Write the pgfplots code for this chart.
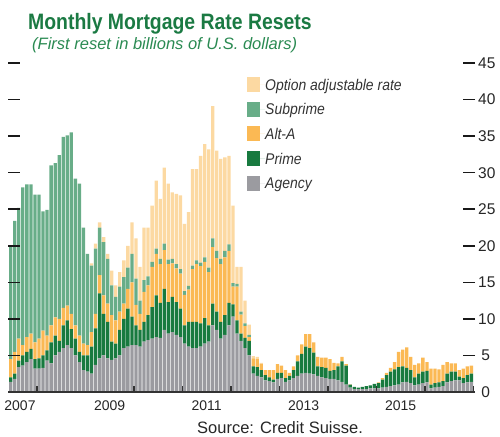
\documentclass[border=0pt]{standalone}
\usepackage{pgfplots}
\pgfplotsset{compat=1.18}
\usepackage{pgfplotstable}
\usepackage{fontspec}
\setmainfont{Liberation Sans}
\newfontfamily\cond[FakeStretch=0.87]{Liberation Sans}
\newfontfamily\legf[FakeStretch=0.9]{Liberation Sans}
\definecolor{agency}{HTML}{9B9BA0}
\definecolor{prime}{HTML}{187A3F}
\definecolor{alta}{HTML}{FBB954}
\definecolor{subp}{HTML}{68AD88}
\definecolor{oar}{HTML}{FCD9A2}
\definecolor{titlegreen}{HTML}{1B7A43}
\definecolor{subgreen}{HTML}{2A8A52}

\pgfplotstableread{
x ag pr aa sp oa
5.5 1.4 0.6 2.5 15.5 0
6.5 1.8 0.7 3.0 17.9 0
7.5 3.4 0.9 3.0 17.9 0
8.5 3.6 1.4 1.4 21.6 0
9.5 4.1 1.4 2.0 20.9 0
10.5 4.5 1.4 2.1 20.4 0
11.5 3.2 1.3 2.3 20.2 0
12.5 3.2 1.4 2.7 19.7 0
13.5 3.3 1.7 3.4 16.3 0
14.5 4.3 1.4 2.0 17.2 0
15.5 3.9 2.9 2.3 21.9 0
16.5 5.0 2.7 2.5 21.1 0
17.5 5.5 1.5 3.0 22.4 0
18.5 6.0 3.1 2.4 23.4 0
19.5 6.4 3.4 2.0 23.3 0
20.5 6.0 2.6 2.1 24.8 0
21.5 5.0 2.3 1.8 20.1 0
22.5 4.1 1.4 2.2 20.8 0
23.5 3.0 2.0 1.6 15.9 0
24.5 2.8 2.2 1.4 12.5 0
25.5 2.5 3.7 2.0 9.1 0.3
26.5 3.7 5.0 2.0 8.9 0.7
27.5 4.6 8.9 2.5 6.5 0.7
28.5 5.0 5.7 2.5 7.3 0.7
29.5 4.6 5.0 2.5 6.1 0.7
30.5 4.4 2.5 3.6 4.1 2.0
31.5 4.6 2.0 3.2 3.2 1.6
32.5 5.0 3.5 2.5 3.4 2.0
33.5 6.0 4.0 2.1 3.6 2.3
34.5 6.2 5.2 2.7 2.9 3.0
35.5 6.4 3.9 4.7 3.9 4.3
36.5 6.4 2.7 2.8 3.6 5.5
37.5 6.2 2.3 2.2 1.8 4.6
38.5 6.9 2.7 4.1 1.6 7.2
39.5 7.1 3.4 4.1 1.2 6.7
40.5 7.3 4.3 5.5 0.7 7.7
41.5 7.5 5.7 5.7 0.7 9.3
42.5 7.4 4.8 5.3 0.7 8.2
43.5 8.5 5.6 5.3 0.9 10.4
44.5 8.0 4.3 5.2 0.6 10.4
45.5 8.2 4.8 4.6 0.6 9.1
46.5 7.8 4.5 4.6 0.6 9.6
47.5 7.5 3.9 4.8 0.6 10.1
48.5 6.6 2.5 4.2 0.5 9.2
49.5 6.2 3.4 4.4 0.5 10.1
50.5 6.0 3.6 7.2 0.5 13.2
51.5 6.0 3.6 7.9 0.5 12.5
52.5 6.2 3.2 7.8 0.5 14.6
53.5 6.6 3.5 7.7 0.6 15.5
54.5 6.9 2.2 7.3 0.6 16.2
55.5 9.1 3.0 7.7 1.2 18.1
56.5 8.5 2.5 7.3 1.0 13.7
57.5 7.3 2.3 7.9 0.7 13.7
58.5 7.8 2.7 7.9 0.9 12.8
59.5 9.1 3.1 7.1 0.9 12.1
60.5 10.3 1.7 2.4 0.5 10.6
61.5 8.0 1.8 4.6 0.4 2.3
62.5 7.0 1.0 2.6 0.4 6.1
63.5 6.0 1.4 1.6 0.4 3.1
64.5 5.0 2.0 0.5 0.3 1.4
65.5 2.5 1.0 1.1 0 0.3
66.5 2.2 1.2 1.1 0 0.3
67.5 2.0 1.0 0.8 0 0.2
68.5 1.6 0.7 0.7 0 0
69.5 1.5 0.5 1.0 0 0
70.5 1.3 0.4 1.3 0 0
71.5 1.8 0.8 1.2 0 0
72.5 1.9 0.7 1.0 0 0
73.5 1.4 0.5 1.1 0 0
74.5 1.6 0.6 0.4 0 0
75.5 1.9 1.1 0.5 0 0
76.5 2.2 2.0 0.8 0 0
77.5 2.5 2.7 1.3 0 0
78.5 2.6 3.6 1.7 0 0
79.5 2.5 3.5 1.9 0 0
80.5 2.4 3.0 1.4 0 0
81.5 2.2 1.3 1.3 0 0
82.5 2.0 1.4 1.3 0 0
83.5 1.9 1.4 1.4 0 0
84.5 1.8 1.1 1.6 0 0
85.5 1.8 1.2 1.0 0 0
86.5 1.6 1.9 0.4 0 0
87.5 1.4 2.8 0.6 0 0
88.5 1.0 2.6 0.2 0 0
89.5 0.6 0.4 0.05 0 0
90.5 0.4 0.3 0 0 0
91.5 0.4 0.2 0 0 0
92.5 0.4 0.3 0 0 0
93.5 0.4 0.4 0 0 0
94.5 0.5 0.4 0 0 0
95.5 0.5 0.6 0 0 0
96.5 0.5 0.7 0.1 0 0
97.5 0.6 1.1 0.2 0 0
98.5 0.7 1.6 0.3 0 0
99.5 0.8 2.0 0.5 0 0
100.5 0.9 2.2 1.0 0 0
101.5 1.0 2.4 2.1 0 0
102.5 1.3 2.2 2.3 0 0
103.5 1.4 1.9 2.8 0 0
104.5 1.2 1.8 1.8 0 0
105.5 0.9 1.1 1.7 0 0
106.5 1.0 1.5 1.4 0 0
107.5 1.2 1.6 1.9 0 0
108.5 1.3 1.6 1.2 0 0
109.5 0.5 0.5 2.2 0 0
110.5 0.6 0.6 2.0 0 0
111.5 0.7 0.6 1.8 0 0
112.5 0.8 0.7 2.2 0 0
113.5 1.3 1.2 1.6 0 0
114.5 1.5 1.3 1.1 0 0
115.5 1.6 1.2 1.1 0 0
116.5 1.6 0.5 0.9 0 0
117.5 1.2 0.7 1.3 0 0
118.5 1.3 1.0 1.2 0 0
119.5 1.4 1.1 1.1 0 0
}\data

\pgfplotsset{sw/.style={legend image code/.code={\fill[##1] (0bp,-7.5bp) rectangle (13bp,7.5bp); \path (0bp,0bp) -- (18bp,0bp);}}}

\begin{document}
\begin{tikzpicture}
\useasboundingbox (0,0) rectangle (500bp,437bp);
\begin{axis}[
  at={(8bp,45bp)}, anchor=south west,
  scale only axis, width=467bp, height=329bp,
  xmin=4.83, xmax=120.4, ymin=0, ymax=45,
  enlargelimits=false,
  ybar stacked, bar width=3.3bp,
  axis on top,
  separate axis lines,
  axis x line*=bottom,
  axis y line*=box,
  x axis line style={draw=black!80, line width=1.3bp},
  y axis line style={draw=none},
  tick align=inside,
  xtick={12,36,48,60,72,84,96,108,120},
  xticklabels={},
  xtick style={draw=black!80, line width=1.5bp, /pgfplots/major tick length=6bp},
  extra x ticks={7.8,30,54,78,102},
  extra x tick labels={2007,2009,2011,2013,2015},
  extra x tick style={major tick length=0pt, xtick style={draw=none}},
  xticklabel style={font=\fontsize{14bp}{16bp}\selectfont, inner sep=0pt, yshift=-9bp, text=black!85},
  ytick={0,5,...,45},
  yticklabel pos=right,
  ytick style={draw=black!90, line width=1.6bp, /pgfplots/major tick length=12bp},
  yticklabel style={font=\fontsize{15.5bp}{18bp}\selectfont, anchor=west, inner sep=0pt, xshift=3bp, text width=15bp, align=center, text=black!85},
  /pgf/number format/assume math mode=true,
  legend style={at={(axis description cs:0.5118,0.9574)}, anchor=north west, draw=none, fill=none, inner sep=0pt, row sep=9.6bp, column sep=0pt,
    font=\legf\itshape\fontsize{15.5bp}{18bp}\selectfont, text=black!80,
    nodes={inner sep=0pt, text height=12bp, text depth=1bp}},
  legend cell align=left,
  reverse legend,
  sw,
]
\addplot[fill=agency, draw=none, sw] table[x=x,y=ag]{\data};
\addlegendentry{Agency}
\addplot[fill=prime, draw=none, sw] table[x=x,y=pr]{\data};
\addlegendentry{Prime}
\addplot[fill=alta, draw=none, sw] table[x=x,y=aa]{\data};
\addlegendentry{Alt-A}
\addplot[fill=subp, draw=none, sw] table[x=x,y=sp]{\data};
\addlegendentry{Subprime}
\addplot[fill=oar, draw=none, sw] table[x=x,y=oa]{\data};
\addlegendentry{Option adjustable rate}
\end{axis}
\node[anchor=base west, inner sep=0pt, text=titlegreen, font=\cond\bfseries\fontsize{22.3bp}{26bp}\selectfont] at (28bp,407.7bp) {Monthly Mortgage Rate Resets};
\node[anchor=base west, inner sep=0pt, text=subgreen, font=\itshape\fontsize{16.5bp}{20bp}\selectfont] at (32bp,387.7bp) {(First reset in billions of U.S. dollars)};
\node[anchor=base west, inner sep=0pt, text=black!85, font=\fontsize{16.5bp}{20bp}\selectfont] at (197bp,4bp) {Source: Credit Suisse.};
\end{tikzpicture}
\end{document}
